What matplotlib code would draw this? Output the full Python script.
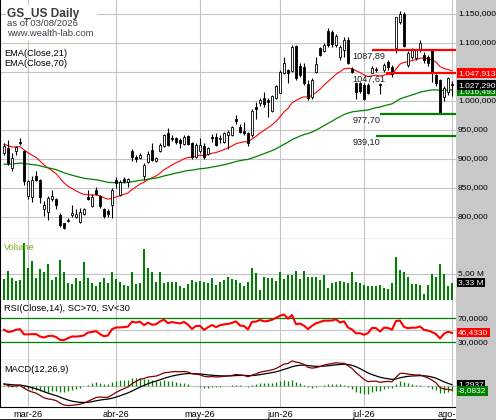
import matplotlib
matplotlib.use("Agg")
import matplotlib.pyplot as plt
import matplotlib.transforms as mtransforms
from matplotlib.patches import Rectangle
from matplotlib.lines import Line2D

plt.rcParams['font.family'] = ['Liberation Sans', 'DejaVu Sans']

# daily bars, 20 feb 2026 .. 03 aug 2026
opens = [911, 918.6, 884, 914.6, 930, 913, 836, 834.7, 870, 864,
         813, 808, 831, 831, 802.7, 789, 793, 802.7, 800, 791,
         804.4, 834, 818.6, 846, 835.8, 814, 810, 820, 863, 838.7,
         865.5, 860, 914.6, 904, 901.5, 870, 894, 915.7, 897, 913.8,
         922.4, 944, 937, 935.6, 932.8, 925.9, 939.6, 927, 904, 914,
         922.4, 908.6, 938.5, 938.5, 935, 930, 941.4, 941.4, 969.5, 954.6,
         949, 944, 941.4, 989, 996, 1006, 1001.7, 983.3, 1004.6, 1014.4,
         1048.8, 1053.4, 1052.3, 1094.8, 1060, 1059, 1030, 1007.5, 1050.6, 1090.8,
         1086.8, 1121.3, 1119.5, 1096.5, 1076.4, 1088, 1106, 1054.6, 1030.5, 1030.5,
         1027.6, 1027.6, 1048.8, 1053, 1029.3, 1053.4, 1067.8, 1059.2, 1090.8, 1137,
         1150, 1062, 1076.4, 1073.6, 1088, 1079, 1076, 1088, 1044.8, 1036,
         1007.5, 1016, 1029.5]
highs = [927, 932, 910, 922.6, 937, 916, 864, 870, 878.6, 866,
         827, 836, 847, 833, 807, 790, 798, 820, 813, 816,
         816, 847, 840, 852, 838.7, 815.8, 814, 850, 869, 864,
         869, 867, 917, 907, 910, 893, 913, 927, 904, 928,
         943, 953, 941, 938.5, 935.6, 941.4, 941.4, 930, 928, 935.6,
         927, 921, 943, 944, 941, 947, 950, 957, 976, 960,
         964, 947, 985.6, 998.8, 1006, 1016, 1004.6, 1010.3, 1027.6, 1053.4,
         1075, 1054.6, 1096.5, 1096.5, 1065, 1065, 1036, 1039, 1075.3, 1093.7,
         1100.6, 1125.3, 1122.4, 1116, 1096.5, 1110, 1110, 1059, 1033.4, 1033.4,
         1030.5, 1031.6, 1060.3, 1058, 1030.5, 1066, 1070.7, 1062, 1145.4, 1155,
         1154, 1086, 1092, 1090, 1106, 1084, 1079, 1090, 1047, 1038,
         1025, 1042, 1034]
lows = [907, 890, 880, 907, 924, 856, 831, 825.5, 861.5, 824,
        801.5, 794.7, 827, 813, 783, 778.7, 791, 800.5, 798.7, 790,
        802.7, 830, 817.5, 838.7, 816, 798.7, 800.5, 798.7, 850, 837,
        858.6, 852, 895.8, 894, 900, 863, 893, 896, 894, 911.5,
        921, 922.4, 931.6, 926, 919.5, 924, 924, 899.4, 901, 911,
        899.4, 907, 930, 922.4, 927, 928, 918, 939.6, 960, 944,
        941, 922.4, 938.5, 968.4, 991.4, 990, 973, 981.6, 1002.9, 1013.2,
        1046.5, 1030.5, 1050.6, 1036, 1042, 1027.6, 1001.7, 1003, 1048.8, 1077.6,
        1085, 1093.7, 1093.7, 1093, 1070.7, 1076, 1064, 1047.7, 1003, 1013,
        1001.7, 1011.5, 1047.7, 1050, 1012, 1050.6, 1053.4, 1042, 1082, 1133,
        1093.7, 1058, 1072, 1070, 1085, 1066, 1060, 1033, 1025, 977.7,
        1000, 1010, 1008]
closes = [922.6, 893, 901, 920, 927, 861.5, 861.5, 864, 864, 834.7,
          821.5, 833, 835.8, 821.5, 785.6, 781.6, 795, 807, 805.6, 808,
          813, 831, 834.7, 840, 818.6, 801.5, 806, 846, 858.6, 859.8,
          861.5, 865.5, 904, 900, 907, 890, 909, 898.6, 901.5, 925,
          941.4, 924, 934, 930, 927, 938.5, 925.9, 904, 924, 924,
          902.8, 919.5, 935.6, 924, 937, 944, 947, 954.6, 966, 947,
          945, 928, 983, 985.6, 1001.7, 994.8, 998.8, 1008.6, 1025.9, 1050.6,
          1066, 1047.7, 1093.7, 1039, 1045, 1031, 1005, 1036, 1063.8, 1079.3,
          1096.5, 1096.5, 1098.3, 1112, 1093.7, 1106, 1065, 1050.6, 1016, 1017.8,
          1003, 1014.4, 1056.3, 1055, 1027.6, 1062, 1059.2, 1046.5, 1144.3, 1150,
          1094.8, 1082, 1088, 1088, 1100.6, 1070.7, 1065, 1050.6, 1030.5, 980,
          1021.8, 1039, 1027.29]
# volume in millions
volumes = [4.0, 5.6, 4.3, 3.7, 3.8, 11.0, 6.2, 7.5, 4.2, 6.0,
           5.3, 6.9, 3.8, 4.5, 7.7, 5.3, 3.3, 3.0, 4.2, 3.7,
           7.4, 4.2, 3.3, 2.7, 3.4, 4.2, 3.2, 5.3, 4.0, 3.5,
           2.8, 2.6, 5.3, 3.1, 3.2, 9.9, 6.1, 5.4, 3.5, 5.4,
           3.2, 3.5, 3.4, 3.5, 2.7, 2.4, 3.0, 3.8, 3.4, 3.7,
           3.5, 3.2, 4.3, 2.9, 3.5, 3.8, 4.5, 4.0, 3.8, 3.2,
           2.7, 3.5, 6.2, 5.1, 1.9, 4.5, 4.3, 4.2, 3.7, 5.3,
           4.0, 4.8, 4.9, 5.6, 4.0, 5.6, 4.5, 4.5, 4.5, 3.8,
           4.8, 2.4, 3.2, 3.5, 3.7, 3.5, 3.3, 5.4, 3.5, 3.2,
           2.9, 2.6, 2.6, 2.6, 2.8, 2.4, 2.1, 3.3, 8.3, 5.8,
           5.4, 4.5, 3.1, 3.1, 2.9, 1.2, 2.9, 5.0, 4.4, 6.9,
           5.0, 2.6, 3.33]

month_ticks = [6, 28, 49, 69, 90, 112]
month_labels = ["mar-26", "abr-26", "may-26", "jun-26", "jul-26", "ago-26"]

levels = [1087.89, 1047.61, 977.70, 939.10]
level_from = [92, 95.5, 94, 93]
level_colors = ["#ff0000", "#ff0000", "#008000", "#008000"]

# indicator values shown in the tags of the original
ema21_last = 1047.913
ema70_last = 1016.493
rsi_last = 46.4330
macd_signal_last = 1.2937
macd_hist_last = -8.0832

# starting states of the indicators
ema21_seed, ema70_seed = 926, 890
ema12_seed, ema26_seed, signal_seed = 921, 918, 2.5
rsi_prev_close, rsi_gain_seed, rsi_loss_seed = 915, 15, 15


def ema(vals, n, seed):
    k = 2.0 / (n + 1)
    out = []
    prev = seed
    for v in vals:
        prev = prev + k * (v - prev)
        out.append(prev)
    return out


def wilder_rsi(vals, n, prev, ag, al):
    out = []
    for v in vals:
        ch = v - prev
        ag = (ag * (n - 1) + max(ch, 0)) / n
        al = (al * (n - 1) + max(-ch, 0)) / n
        out.append(100 - 100 / (1 + ag / al))
        prev = v
    return out


def es(v, d):
    s = "{:,.{}f}".format(v, d)
    return s.replace(",", "_").replace(".", ",").replace("_", ".")


xs = list(range(len(closes)))
ema21 = ema(closes, 21, ema21_seed)
ema70 = ema(closes, 70, ema70_seed)
macd = [a - b for a, b in zip(ema(closes, 12, ema12_seed), ema(closes, 26, ema26_seed))]
signal = ema(macd, 9, signal_seed)
hist = [a - b for a, b in zip(macd, signal)]
rsi = wilder_rsi(closes, 14, rsi_prev_close, rsi_gain_seed, rsi_loss_seed)

W, H = 496, 420
GRID = "#c4c4c4"


def frame(x0, y0, x1, y1):
    return [x0 / W, 1 - y1 / H, (x1 - x0) / W, (y1 - y0) / H]


def style(ax):
    ax.set_xlim(-1, 113)
    ax.set_yticks([])
    ax.set_xticks([])
    ax.spines['top'].set_visible(False)
    ax.spines['right'].set_visible(False)
    ax.spines['bottom'].set_linewidth(0.8)
    ax.spines['left'].set_linewidth(1.5)
    for m in month_ticks:
        ax.axvline(m, color=GRID, lw=0.8, zorder=0)


fig = plt.figure(figsize=(W / 100, H / 100), dpi=100)

# price
ax = fig.add_axes(frame(0, 0, 456, 239))
style(ax)
ax.set_ylim(762.1, 1174.1)
for v in range(800, 1151, 50):
    ax.axhline(v, color=GRID, lw=0.8, zorder=0)
ax.plot(xs, ema21, color="#ff0000", lw=0.8, zorder=2)
ax.plot(xs, ema70, color="#008000", lw=0.9, zorder=2)
ax.vlines(xs, lows, highs, color="black", lw=0.8, zorder=3)
bottoms = [min(o, c) for o, c in zip(opens, closes)]
heights = [max(abs(c - o), 0.8) for o, c in zip(opens, closes)]
faces = ["white" if c >= o else "black" for o, c in zip(opens, closes)]
ax.bar(xs, heights, bottom=bottoms, width=0.55, color=faces,
       edgecolor="black", linewidth=0.6, zorder=4)
for lv, x0, col in zip(levels, level_from, level_colors):
    ax.plot([x0, 113], [lv, lv], color=col, lw=1.6, zorder=5, solid_capstyle="butt")
    ax.text(87.2, lv - 3.2, "{:.2f}".format(lv).replace(".", ","), fontsize=6.6,
            color="#202020", va="top", ha="left", zorder=6)
ax.add_patch(Rectangle((6 / 456, (239 - 41) / 239), 91 / 456, 36 / 239,
                       transform=ax.transAxes, facecolor="white", edgecolor="none", zorder=1))

# volume
axv = fig.add_axes(frame(0, 239, 456, 300))
style(axv)
axv.set_ylim(0, 11.73)
axv.axhline(5, color=GRID, lw=0.8, zorder=0)
axv.bar(xs, volumes, width=0.5, color="#008000", zorder=2)

# rsi
axr = fig.add_axes(frame(0, 300, 456, 360))
style(axr)
axr.set_ylim(0.5, 100.5)
axr.axhline(50, color=GRID, lw=0.8, zorder=0)
axr.axhline(70, color="#008000", lw=0.9, zorder=1)
axr.axhline(30, color="#008000", lw=0.9, zorder=1)
axr.plot(xs, rsi, color="#ff0000", lw=1.5, zorder=2)

# macd
axm = fig.add_axes(frame(0, 360, 456, 407))
style(axm)
axm.set_ylim(-33.3, 40.2)
axm.axhline(0, color=GRID, lw=0.8, zorder=0)
axm.vlines(xs, 0, hist, color="#008000", lw=0.9, zorder=1)
axm.plot(xs, signal, color="black", lw=0.9, zorder=2)
axm.plot(xs, macd, color="#800000", lw=0.9, zorder=3)
axm.set_xticks(month_ticks)
axm.set_xticklabels(month_labels, fontsize=6.6)
axm.tick_params(axis="x", length=0, pad=2.5)

# titles and legends
fig.text(7 / W, 1 - 16.5 / H, "GS_US Daily", fontsize=8.6, fontweight="bold",
         color="#3a3a3a", va="baseline")
fig.text(7 / W, 1 - 26.5 / H, "as of 03/08/2026", fontsize=6.8, color="#404040", va="baseline")
fig.text(7 / W, 1 - 36.5 / H, "www.wealth-lab.com", fontsize=6.8, color="#404050", va="baseline")
fig.text(4 / W, 1 - 56 / H, "EMA(Close,21)", fontsize=6.7, color="black", va="baseline")
fig.text(4 / W, 1 - 66.5 / H, "EMA(Close,70)", fontsize=6.7, color="black", va="baseline")
fig.text(4 / W, 1 - 250 / H, "Volume", fontsize=6.7, color="#7aac1c", va="baseline")
fig.text(4 / W, 1 - 311 / H, "RSI(Close,14), SC>70, SV<30", fontsize=6.7, color="black", va="baseline")
fig.text(4 / W, 1 - 372 / H, "MACD(12,26,9)", fontsize=6.7, color="black", va="baseline")

# right axis strip
ov = fig.add_axes(frame(456, 0, 496, 420))
ov.set_facecolor("#c8c8c8")
ov.set_xticks([])
ov.set_yticks([])
for s in ov.spines.values():
    s.set_visible(False)
ov.set_zorder(5)


def rlabel(panel, y, s, fc=None, z=3):
    tr = mtransforms.blended_transform_factory(ov.transAxes, panel.transData)
    box = None
    if fc is not None:
        box = dict(boxstyle="square,pad=0.15", facecolor=fc, edgecolor="none")
    ov.text(0.05, y, s, transform=tr, fontsize=6.0, va="center", ha="left",
            color="white" if fc else "black", bbox=box, clip_on=False, zorder=z)


for v in range(800, 1151, 50):
    rlabel(ax, v, es(v, 3))
rlabel(ax, ema21_last, es(ema21_last, 3), "#ff0000", 4)
rlabel(ax, ema70_last, es(ema70_last, 3), "#008000", 4)
rlabel(ax, closes[-1], es(closes[-1], 3), "black", 5)
rlabel(axv, 5, "5,00 M")
rlabel(axv, volumes[-1], es(volumes[-1], 2) + " M", "black", 4)
rlabel(axr, 70, "70,0000")
rlabel(axr, 30, "30,0000")
rlabel(axr, rsi_last, es(rsi_last, 4), "#ff0000", 4)
rlabel(axm, macd_signal_last, es(macd_signal_last, 4), "black", 4)
rlabel(axm, macd_hist_last, es(macd_hist_last, 4), "#008000", 5)

fig.add_artist(Line2D([0, 456 / W], [0.5 / H, 0.5 / H], color="black", lw=1.2))

fig.savefig("out.png", dpi=100)
